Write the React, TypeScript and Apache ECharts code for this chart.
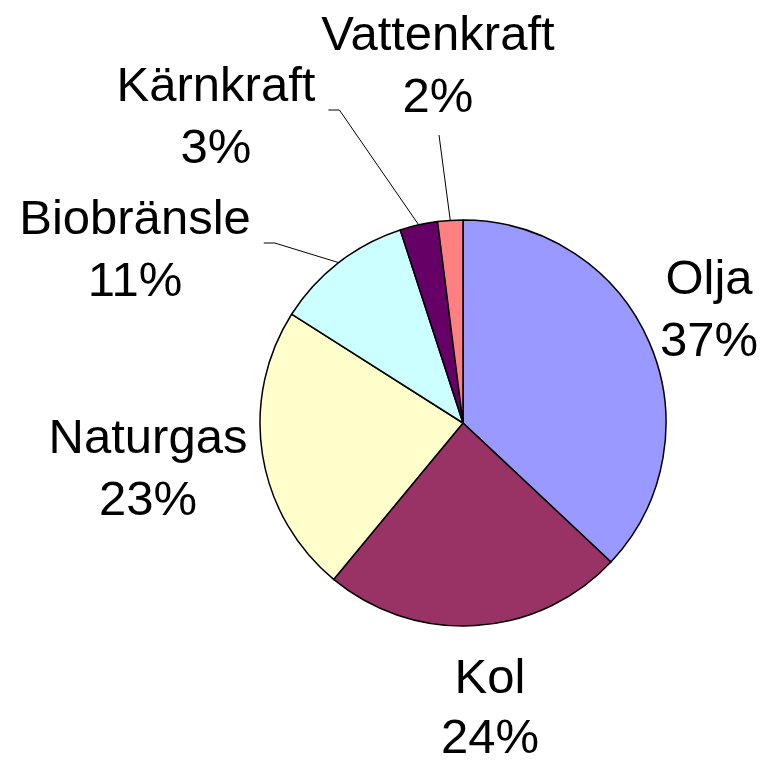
import React, { useEffect, useRef } from "react";
import * as echarts from "echarts";

const CATEGORIES = ["Olja", "Kol", "Naturgas", "Biobränsle", "Kärnkraft", "Vattenkraft"];
const VALUES = [37, 24, 23, 11, 3, 2];
const COLORS = ["#9999FF", "#993366", "#FFFFCC", "#CCFFFF", "#660066", "#FF8080"];
const SHOW_LEADER = [false, false, false, true, true, true];

// label block centres and line heights (layout, not data)
const LABEL_POS: [number, number][] = [
  [709, 308],
  [490, 706],
  [148, 467],
  [135, 248],
  [216, 115],
  [438, 64],
];
const LABEL_LINE_HEIGHT = [62, 60, 62, 62, 62, 62];

const CX = 463;
const CY = 423;
const R = 203;

export default function App() {
  const ref = useRef<HTMLDivElement>(null);
  useEffect(() => {
    document.body.style.margin = "0";
    if (!ref.current) return;
    const chart = echarts.init(ref.current, null, { renderer: "svg" });
    const total = VALUES.reduce((a, b) => a + b, 0);
    const cum: number[] = [];
    let acc = 0;
    VALUES.forEach((v) => {
      cum.push(acc + v / 2);
      acc += v;
    });
    const edgePoint = (i: number) => {
      const a = (cum[i] / total) * Math.PI * 2; // clockwise from top
      return [CX + R * Math.sin(a), CY - R * Math.cos(a)];
    };
    chart.setOption({
      animation: false,
      backgroundColor: "#ffffff",
      series: [
        {
          type: "pie",
          center: [CX, CY],
          radius: [0, R],
          startAngle: 90,
          clockwise: true,
          avoidLabelOverlap: false,
          percentPrecision: 0,
          itemStyle: { borderColor: "#000", borderWidth: 1.5 },
          emphasis: { disabled: true },
          label: {
            show: true,
            position: "outside",
            formatter: "{b}\n{d}%",
            fontFamily: "Liberation Sans, Arial, sans-serif",
            fontSize: 49,
            lineHeight: 62,
            color: "#000",
            align: "center",
          },
          labelLine: {
            show: true,
            lineStyle: { color: "#000", width: 1 },
          },
          labelLayout: (params: any) => {
            const i = params.dataIndex;
            const [x, y] = LABEL_POS[i];
            const w = params.labelRect.width;
            const h = params.labelRect.height;
            const out: any = { x, y, align: "center", verticalAlign: "middle" };
            if (SHOW_LEADER[i]) {
              const e = edgePoint(i);
              const right = x + w / 2;
              const bottom = y + h / 2;
              if (e[0] > right) {
                const sx = right + 13;
                const sy = y - 5;
                out.labelLinePoints = [[sx, sy], [sx + 11, sy], e];
              } else {
                const sx = x + 1;
                const sy = bottom + 9;
                out.labelLinePoints = [[sx, sy], [sx, sy], e];
              }
            }
            return out;
          },
          data: CATEGORIES.map((name, i) => ({
            name,
            value: VALUES[i],
            itemStyle: { color: COLORS[i] },
            label: { lineHeight: LABEL_LINE_HEIGHT[i] },
            labelLine: { show: SHOW_LEADER[i] },
          })),
        },
      ],
    });
    return () => chart.dispose();
  }, []);
  return <div ref={ref} style={{ width: 765, height: 764 }} />;
}
